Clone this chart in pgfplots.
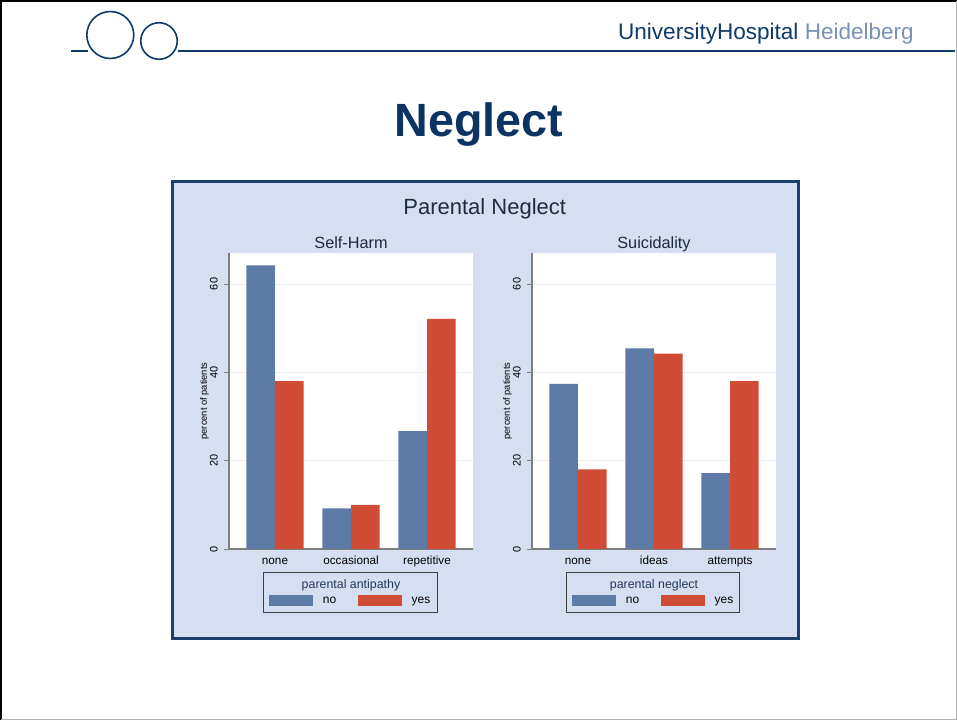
\documentclass[border=0pt]{standalone}
\usepackage{pgfplots}
\pgfplotsset{compat=1.18}
\usepackage{fontspec}
\setmainfont{Liberation Sans}

\definecolor{hdblue}{HTML}{0F3B6B}
\definecolor{hdlight}{HTML}{7A93B5}
\definecolor{titleblue}{HTML}{0B3463}
\definecolor{boxnavy}{HTML}{1C3F6E}
\definecolor{graphbg}{HTML}{D6DFF1}
\definecolor{barblue}{HTML}{5E7AA6}
\definecolor{barred}{HTML}{D04C36}
\definecolor{axgray}{HTML}{7F7F7F}
\definecolor{gridc}{HTML}{E8EFF0}
\definecolor{titc}{HTML}{1E2A45}
\definecolor{legtit}{HTML}{24385A}

% one Stata-like bar panel, 1px = 0.75pt
\pgfplotsset{
  stbar/.style={
    width=183pt, height=222pt, scale only axis,
    anchor=north west,
    ybar=0pt, bar width=21.4pt,
    xmin=-0.605, xmax=2.605, ymin=0, ymax=67,
    xtick={0,1,2}, ytick={0,20,40,60},
    axis x line*=bottom, axis y line*=left,
    axis line style={draw=axgray, line width=0.8pt},
    axis background/.style={fill=white},
    ymajorgrids, grid style={draw=gridc, line width=0.6pt},
    tick align=outside, major tick length=3.75pt,
    major x tick style={draw=none},
    major y tick style={draw=axgray, line width=0.6pt},
    /pgf/number format/assume math mode=true,
    yticklabel style={xshift=-4.5pt, rotate=90, anchor=south, inner sep=0pt,
      font=\fontsize{8.2}{9}\selectfont},
    xticklabel style={anchor=base, yshift=-8.25pt,
      font=\fontsize{8.8}{10}\selectfont, text=black},
    ylabel={percent of patients},
    every axis y label/.style={at={(rel axis cs:0,0.5)}, xshift=-15pt, rotate=90,
      anchor=south, inner sep=0pt, font=\fontsize{7}{8}\selectfont},
    every axis title/.style={at={(0.5,1)}, anchor=base, yshift=3pt,
      font=\fontsize{12.2}{14}\selectfont, text=titc},
    clip=false,
    legend style={at={(0.5,-0.175)}, anchor=center, draw=none, fill=none,
      legend columns=2, font=\fontsize{9}{10}\selectfont,
      /tikz/every odd column/.append style={column sep=5.5pt},
      /tikz/every even column/.append style={column sep=14pt}},
  },
  swatch/.style={legend image code/.code={%
    \fill[##1] (0pt,-4.1pt) rectangle (33pt,4.1pt);}},
}

\begin{document}
\begin{tikzpicture}[x=0.75pt,y=0.75pt]
\useasboundingbox (0,0) rectangle (957,-720);
\fill[white] (0,0) rectangle (957,-720);
\draw[black, line width=1.5pt] (1,-720) -- (1,-1) -- (957,-1);
\draw[gray!60, line width=0.75pt] (956.5,-1) -- (956.5,-719.5) -- (1,-719.5);

% header
\draw[hdblue, line width=1.5pt] (71,-51) -- (88,-51);
\draw[hdblue, line width=1.2pt] (110.3,-35) circle [radius=17.6pt];
\draw[hdblue, line width=1.2pt] (159,-41) circle [radius=13.7pt];
\draw[hdblue, line width=1.5pt] (177.5,-51) -- (955,-51);
\node[anchor=base east, inner sep=0pt, font=\fontsize{16.9}{18}\selectfont]
  at (914,-40) {\textcolor{hdblue}{UniversityHospital} \textcolor{hdlight}{Heidelberg}};
\node[anchor=base, inner sep=0pt, font=\bfseries\fontsize{35}{40}\selectfont, text=titleblue]
  at (479,-137) {Neglect};

% graph region
\draw[boxnavy, line width=2.25pt, fill=graphbg] (172.5,-181.5) rectangle (798,-638);
\node[anchor=base, inner sep=0pt, font=\fontsize{16.5}{18}\selectfont, text=titc]
  at (484.7,-214.3) {Parental Neglect};

\coordinate (A) at (229,-253);
\coordinate (B) at (532,-253);

\begin{axis}[stbar, at={(A)}, title={Self-Harm},
  xticklabels={none,occasional,repetitive}]
\addplot[fill=barblue, draw=none, swatch] coordinates {(0,64.2) (1,9.2) (2,26.7)};
\addplot[fill=barred, draw=none, swatch] coordinates {(0,38.0) (1,10.0) (2,52.1)};
\legend{no,yes}
\draw[black!75, line width=0.75pt] (rel axis cs:0.143,-0.080) rectangle (rel axis cs:0.855,-0.214);
\node[anchor=base, inner sep=0pt, font=\fontsize{9.3}{10}\selectfont, text=legtit]
  at (rel axis cs:0.5,-0.135) {parental antipathy};
\end{axis}

\begin{axis}[stbar, at={(B)}, title={Suicidality},
  xticklabels={none,ideas,attempts}]
\addplot[fill=barblue, draw=none, swatch] coordinates {(0,37.4) (1,45.4) (2,17.2)};
\addplot[fill=barred, draw=none, swatch] coordinates {(0,18.0) (1,44.2) (2,38.0)};
\legend{no,yes}
\draw[black!75, line width=0.75pt] (rel axis cs:0.142,-0.080) rectangle (rel axis cs:0.850,-0.214);
\node[anchor=base, inner sep=0pt, font=\fontsize{9.3}{10}\selectfont, text=legtit]
  at (rel axis cs:0.5,-0.135) {parental neglect};
\end{axis}
\end{tikzpicture}
\end{document}
